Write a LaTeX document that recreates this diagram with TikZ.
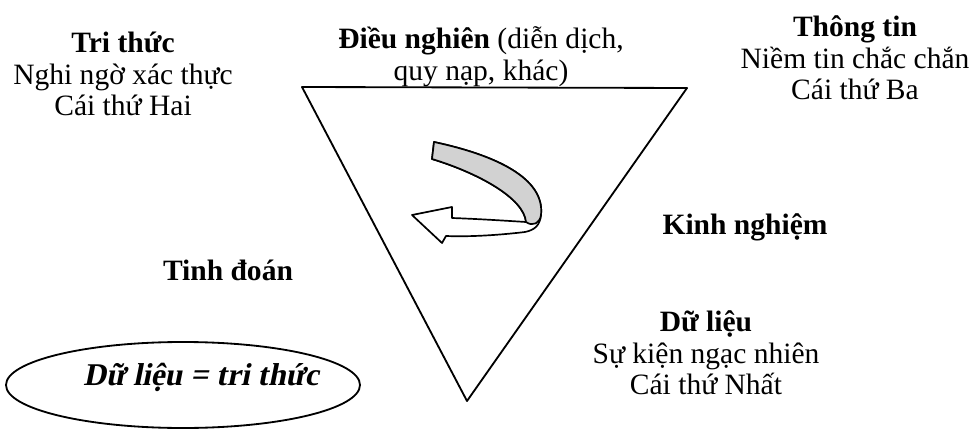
\documentclass[tikz,border=0pt]{standalone}
\usepackage{fontspec}
\setmainfont{Liberation Serif}
\newfontfamily\slantserif{Liberation Serif}[FakeSlant=0.2]
\usetikzlibrary{positioning}

\begin{document}
\begin{tikzpicture}[x=0.025cm, y=-0.025cm, line cap=round, line join=round,
  every node/.style={inner sep=0pt},
  txt/.style={align=center, font=\fontsize{21}{22.5}\selectfont},
  edge/.style={line width=1.3pt}]
  \path[use as bounding box] (0,0) rectangle (974,433);
  % corners of the inverted triangle (units are pixels of the scan)
  \coordinate (tl) at (302,87);
  \coordinate (tr) at (687,88);
  \coordinate (bt) at (467,401);
  \draw[edge] (tl) -- (tr) -- (bt) -- cycle;
  % curled arrow: white band with the grey back of the ribbon
  \filldraw[fill=white, line width=1.2pt]
    (434,142) .. controls (495,155) and (545,178) .. (541,215)
    .. controls (540,225) and (535,230) .. (525,232)
    .. controls (500,235) and (470,237) .. (446,236)
    -- (442,243) -- (412,215) -- (452,207) -- (452,218)
    .. controls (480,219) and (510,221) .. (526,222)
    .. controls (524,198) and (478,173) .. (432,159) -- cycle;
  \filldraw[fill=gray!35, line width=1.2pt]
    (434,142) .. controls (495,155) and (545,178) .. (541,215)
    .. controls (540,223) and (533,227) .. (526,222)
    .. controls (524,198) and (478,173) .. (432,159) -- cycle;
  \node[txt] (tri) at (123,74) {\textbf{Tri thức}\\Nghi ngờ xác thực\\Cái thứ Hai};
  \node[txt] (dieu) at (481,57) {\textbf{Điều nghiên} (diễn dịch,\\quy nạp, khác)};
  \node[txt] (thong) at (855,58) {\textbf{Thông tin}\\Niềm tin chắc chắn\\Cái thứ Ba};
  \node[txt, font=\fontsize{21}{22.5}\selectfont\bfseries] (kinh) at (745,227) {Kinh nghiệm};
  \node[txt, font=\fontsize{21}{22.5}\selectfont\bfseries] (tinh) at (228,270) {Tinh đoán};
  \node[txt] (duli) at (706,353) {\textbf{Dữ liệu}\\Sự kiện ngạc nhiên\\Cái thứ Nhất};
  % the closing ellipse
  \draw[edge] (183,385) ellipse [x radius=177, y radius=43];
  \node[txt, font=\fontsize{22.5}{24}\selectfont\slantserif\bfseries] (dltt)
    at (201,377) {Dữ liệu = tri thức};
\end{tikzpicture}
\end{document}
